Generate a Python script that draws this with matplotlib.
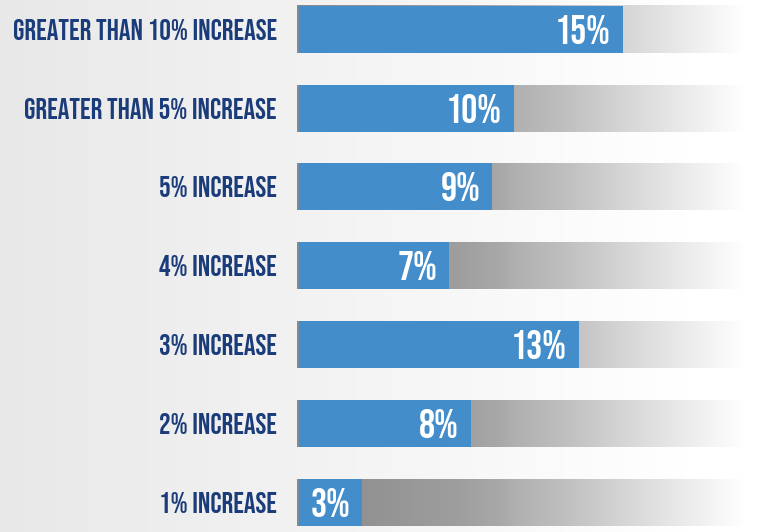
import numpy as np
import matplotlib
matplotlib.use("Agg")
import matplotlib.pyplot as plt
from matplotlib import font_manager

categories = ["GREATER THAN 10% INCREASE", "GREATER THAN 5% INCREASE", "5% INCREASE",
              "4% INCREASE", "3% INCREASE", "2% INCREASE", "1% INCREASE"]
values = [15, 10, 9, 7, 13, 8, 3]
value_labels = ["15%", "10%", "9%", "7%", "13%", "8%", "3%"]

W, H = 760, 532
DPI = 100
BLUE = "#438dcb"
NAVY = "#1b3c7a"

names = {f.name for f in font_manager.fontManager.ttflist}
FONT = None
for cand in ["Bebas Neue", "Oswald", "Fjalla One", "Roboto Condensed", "Barlow Condensed",
             "Archivo Narrow", "PT Sans Narrow", "Liberation Sans Narrow"]:
    if cand in names:
        FONT = cand
        break
if FONT is None:
    FONT = "DejaVu Sans"
is_bebas = FONT == "Bebas Neue"
weight = "normal" if is_bebas else "bold"
lab_size = 20.9 if is_bebas else 17
val_size = 29 if is_bebas else 25

fig = plt.figure(figsize=(W / DPI, H / DPI), dpi=DPI)

# background gradient (light grey -> white)
bg = fig.add_axes([0, 0, 1, 1], zorder=0)
bg.set_axis_off()
xs = np.linspace(0, 1, 400)
bgvals = np.interp(xs, [0, 0.4, 0.9, 1], [0.91, 0.95, 1.0, 1.0])
bg.imshow(np.tile(bgvals, (2, 1))[..., None].repeat(3, axis=2), aspect="auto",
          extent=[0, 1, 0, 1], interpolation="bilinear")
bg.set_xlim(0, 1)
bg.set_ylim(0, 1)

# main axes
x0 = 297
ax = fig.add_axes([x0 / W, 0, (W - x0) / W, 1], zorder=1)
ax.patch.set_alpha(0)
px_per_unit = 21.7
xmax = (W - x0) / px_per_unit
top_center, step = 29.3, 78.8
ylo = -top_center / step
yhi = (H - top_center) / step
ax.set_axis_off()

bar_h = 47 / step

# grey fade behind bars: darker near the bars, white at the right edge
gx_px = np.array([297, 353, 456, 500, 515, 568, 623, 700, 745, 760])
gv = np.array([136, 144, 158, 168, 176, 192, 213, 240, 255, 255]) / 255.0
xx_px = np.linspace(x0, W, 500)
grey = np.interp(xx_px, gx_px, gv)
grey_img = np.tile(grey, (2, 1))[..., None].repeat(3, axis=2)

n = len(categories)
for i in range(n):
    ax.imshow(grey_img, aspect="auto", extent=[0, xmax, i + bar_h / 2, i - bar_h / 2],
              interpolation="bilinear", zorder=1)
ax.barh(range(n), values, height=bar_h, color=BLUE, zorder=2, edgecolor="none")
# thin grey edge at the start of each bar
for i in range(n):
    ax.plot([0.03, 0.03], [i - bar_h / 2, i + bar_h / 2], color="#8c8c8c", lw=1.2,
            zorder=3, solid_capstyle="butt")
ax.set_xlim(0, xmax)
ax.set_ylim(yhi, ylo)

for i, (cat, v, lab) in enumerate(zip(categories, values, value_labels)):
    ax.text(v - 12 / px_per_unit, i, lab, ha="right", va="center_baseline", color="white",
            fontsize=val_size, fontweight=weight, family=[FONT, "DejaVu Sans"], zorder=4)
    ax.text(-20 / px_per_unit, i, cat, ha="right", va="center_baseline", color=NAVY,
            fontsize=lab_size, fontweight=weight, family=[FONT, "DejaVu Sans"], zorder=4,
            clip_on=False)

fig.savefig("out.png", dpi=DPI)
